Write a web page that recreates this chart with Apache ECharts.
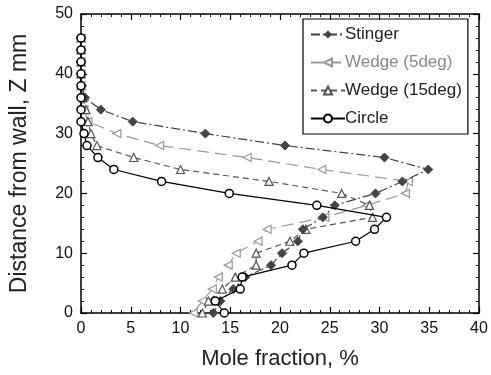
<!DOCTYPE html>
<html>
<head>
<meta charset="utf-8">
<script src="https://cdn.jsdelivr.net/npm/echarts@6/dist/echarts.min.js"></script>
<style>
  html, body { margin: 0; padding: 0; background: #fff; }
  #chart { width: 491px; height: 375px; }
</style>
</head>
<body>
<div id="chart"></div>
<script>
// distance from wall (mm), top to bottom
const depth = [46, 44, 42, 40, 38, 36, 34, 32, 30, 28, 26, 24, 22, 20, 18, 16, 14, 12, 10, 8, 6, 4, 2, 0];

// mole fraction (%) at each depth
const stinger = [0, 0, 0, 0, 0.1, 0.4, 2.0, 5.2, 12.5, 20.5, 30.5, 34.9, 32.3, 29.6, 25.5, 24.3, 22.3, 21.8, 20.2, 19.1, 16.5, 15.3, 14.0, 13.3];
const wedge5 = [0, 0, 0, 0, 0, 0.1, 0.3, 0.7, 3.6, 7.9, 16.7, 24.2, 32.9, 32.6, 28.7, 24.5, 18.7, 17.8, 15.6, 14.8, 13.8, 13.2, 12.2, 11.3];
const wedge15 = [0, 0, 0, 0, 0, 0.2, 0.5, 0.7, 1.0, 1.6, 5.3, 10.0, 18.9, 26.2, 29.0, 29.3, 22.6, 21.0, 17.6, 17.6, 15.5, 14.2, 12.8, 12.2];
const circle = [0, 0, 0, 0, 0, 0, 0, 0, 0.3, 0.6, 1.7, 3.3, 8.1, 14.9, 23.7, 30.7, 29.5, 27.6, 22.4, 21.2, 16.2, 16.0, 13.5, 14.4];

const pairs = (vals) => vals.map((v, i) => [v, depth[i]]);

const chart = echarts.init(document.getElementById('chart'));

const font = 'Liberation Sans, Arial, sans-serif';

function axisCommon(extra) {
  return Object.assign({
    type: 'value',
    axisLine: { show: true, onZero: false, lineStyle: { color: '#000', width: 1.5 } },
    axisTick: { show: true, inside: true, length: 6, lineStyle: { color: '#000', width: 1.2 } },
    minorTick: { show: true, splitNumber: 5, length: 3, lineStyle: { color: '#000', width: 1 } },
    splitLine: { show: false },
    axisLabel: { color: '#111', fontSize: 16, fontFamily: font, margin: 8 }
  }, extra);
}

chart.setOption({
  animation: false,
  backgroundColor: '#fff',
  grid: { left: 81, right: 12, top: 14, bottom: 62 },
  legend: {
    orient: 'vertical',
    left: 303,
    top: 19,
    padding: [7, 6, 7, 7],
    itemGap: 11,
    itemWidth: 34,
    itemHeight: 10,
    borderColor: '#000',
    borderWidth: 1.2,
    textStyle: { fontSize: 17, fontFamily: font, color: '#222', padding: [0, 0, 0, -5] },
    data: [
      { name: 'Stinger' },
      { name: 'Wedge (5deg)', textStyle: { color: '#888' } },
      { name: 'Wedge (15deg)' },
      { name: 'Circle' }
    ]
  },
  xAxis: [
    axisCommon({
      min: 0, max: 40, interval: 5,
      name: 'Mole fraction, %',
      nameLocation: 'middle',
      nameGap: 35,
      nameTextStyle: { fontSize: 22, fontFamily: font, color: '#222' }
    }),
    axisCommon({ min: 0, max: 40, interval: 5, position: 'top', axisLabel: { show: false } })
  ],
  yAxis: [
    axisCommon({
      min: 0, max: 50, interval: 10,
      name: 'Distance from wall, Z mm',
      nameLocation: 'middle',
      nameGap: 50,
      nameTextStyle: { fontSize: 23, fontFamily: font, color: '#222' }
    }),
    axisCommon({ min: 0, max: 50, interval: 10, position: 'right', axisLabel: { show: false } })
  ],
  series: [
    {
      name: 'Stinger',
      type: 'line',
      data: pairs(stinger),
      symbol: 'diamond',
      symbolSize: 9,
      itemStyle: { color: '#444', borderColor: '#444' },
      lineStyle: { color: '#444', width: 1.2, type: [9, 3, 2, 3] },
      z: 4
    },
    {
      name: 'Wedge (5deg)',
      type: 'line',
      data: pairs(wedge5),
      symbol: 'triangle',
      symbolRotate: 90,
      symbolSize: 8,
      itemStyle: { color: '#fff', borderColor: '#999', borderWidth: 1.2 },
      lineStyle: { color: '#999', width: 1.2, type: [12, 6] },
      z: 2
    },
    {
      name: 'Wedge (15deg)',
      type: 'line',
      data: pairs(wedge15),
      symbol: 'triangle',
      symbolSize: 8,
      itemStyle: { color: '#fff', borderColor: '#555', borderWidth: 1.2 },
      lineStyle: { color: '#555', width: 1.2, type: [6, 4] },
      z: 3
    },
    {
      name: 'Circle',
      type: 'line',
      data: pairs(circle),
      symbol: 'circle',
      symbolSize: 8,
      itemStyle: { color: '#fff', borderColor: '#000', borderWidth: 1.5 },
      lineStyle: { color: '#000', width: 1.2 },
      z: 5
    }
  ]
});
</script>
</body>
</html>
